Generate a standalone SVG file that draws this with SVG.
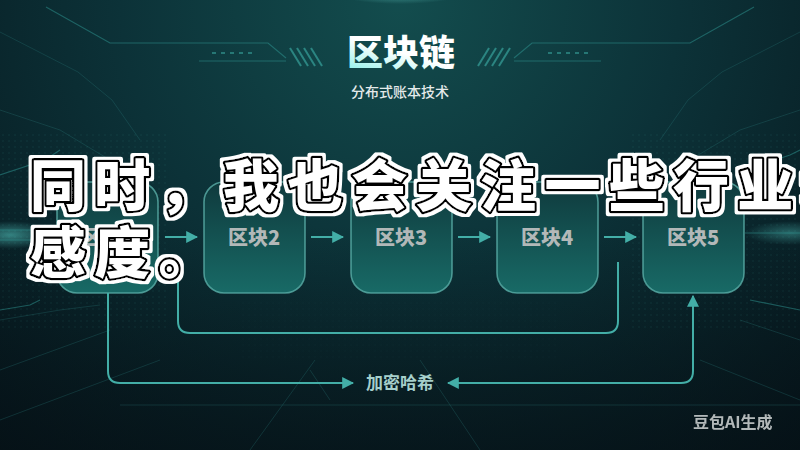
<svg xmlns="http://www.w3.org/2000/svg" width="800" height="450" viewBox="0 0 800 450">
  <style>
    .deco { fill: none; stroke: #2f9893; stroke-width: 1.2; opacity: 0.5; }
    .faint { fill: none; stroke: #2a7f7c; stroke-width: 1; opacity: 0.28; }
    .block rect { fill: url(#blockGrad); stroke: #5aaea7; stroke-width: 1.6; stroke-opacity: 0.8; }
    .block text { font-family: "Noto Sans CJK SC", "Noto Sans", sans-serif; font-weight: 900; font-size: 20px; fill: #b2b8b8; text-anchor: middle; }
    .conn { fill: none; stroke: #43aea7; stroke-width: 2; }
    .title { font-family: "Noto Sans CJK SC", sans-serif; font-weight: 900; font-size: 36px; text-anchor: middle; fill: url(#titleGrad); }
    .sub { font-family: "Noto Sans CJK SC", sans-serif; font-weight: 500; font-size: 14px; text-anchor: middle; fill: #e4eaea; }
    .lbl { font-family: "Noto Sans CJK SC", sans-serif; font-weight: 700; font-size: 17px; text-anchor: middle; fill: #a6cfcb; }
    .wm { font-family: "Noto Sans CJK SC", sans-serif; font-weight: 700; font-size: 16px; fill: #d2d6d6; opacity: 0.85; }
  </style>
  <defs>
    <radialGradient id="bgGrad" cx="400" cy="0" r="620" gradientUnits="userSpaceOnUse">
      <stop offset="0" stop-color="#134d4e"/>
      <stop offset="0.45" stop-color="#0c3238"/>
      <stop offset="1" stop-color="#06141a"/>
    </radialGradient>
    <linearGradient id="bottomShade" x1="0" y1="0" x2="0" y2="1">
      <stop offset="0.5" stop-color="#050f14" stop-opacity="0"/>
      <stop offset="1" stop-color="#050f14" stop-opacity="0.6"/>
    </linearGradient>
    <radialGradient id="topGlow" cx="0.5" cy="0" r="0.7">
      <stop offset="0" stop-color="#7ff5ec" stop-opacity="0.6"/>
      <stop offset="1" stop-color="#7ff5ec" stop-opacity="0"/>
    </radialGradient>
    <radialGradient id="sideGlow" cx="0.5" cy="0.5" r="0.5">
      <stop offset="0" stop-color="#5fe3da" stop-opacity="0.5"/>
      <stop offset="1" stop-color="#5fe3da" stop-opacity="0"/>
    </radialGradient>
    <linearGradient id="blockGrad" x1="0" y1="0" x2="0" y2="1">
      <stop offset="0" stop-color="#0f3a3d"/>
      <stop offset="1" stop-color="#186a66"/>
    </linearGradient>
    <linearGradient id="titleGrad" x1="0" y1="1" x2="0.6" y2="0">
      <stop offset="0" stop-color="#7eefe6"/>
      <stop offset="0.55" stop-color="#ffffff"/>
      <stop offset="1" stop-color="#ffffff"/>
    </linearGradient>
    <pattern id="dots" width="6" height="6" patternUnits="userSpaceOnUse">
      <circle cx="3" cy="3" r="0.7" fill="#3aa7a0"/>
    </pattern>
    <marker id="arrow" viewBox="0 0 10 10" refX="9" refY="5" markerWidth="6" markerHeight="6" orient="auto-start-reverse" markerUnits="strokeWidth">
      <path d="M0,0 L10,5 L0,10 z" fill="#43aea7"/>
    </marker>
    <filter id="capHalo" x="-5%" y="-20%" width="110%" height="140%">
      <feMorphology in="SourceAlpha" operator="dilate" radius="3" result="fat"/>
      <feFlood flood-color="#ffffff"/>
      <feComposite in2="fat" operator="in" result="whiteHalo"/>
      <feMerge>
        <feMergeNode in="whiteHalo"/>
        <feMergeNode in="SourceGraphic"/>
      </feMerge>
    </filter>
  </defs>

  <!-- background -->
  <rect width="800" height="450" fill="url(#bgGrad)"/>
  <rect width="800" height="450" fill="url(#bottomShade)"/>
  <ellipse cx="400" cy="0" rx="50" ry="10" fill="url(#topGlow)"/>
  <rect x="0" y="130" width="170" height="200" fill="url(#dots)" opacity="0.16"/>
  <rect x="630" y="130" width="170" height="200" fill="url(#dots)" opacity="0.16"/>
  <rect x="240" y="300" width="320" height="60" fill="url(#dots)" opacity="0.05"/>

  <!-- decorative lines around title -->
  <g id="decoration">
    <polyline class="deco" points="46,7 110,43 268,43 286,58"/>
    <polyline class="deco" points="199,61 286,61"/>
    <g stroke="#3aa9a2" stroke-width="2" opacity="0.55">
      <line x1="212" y1="53" x2="216" y2="53"/><line x1="221" y1="53" x2="225" y2="53"/>
      <line x1="230" y1="53" x2="234" y2="53"/><line x1="239" y1="53" x2="243" y2="53"/>
      <line x1="248" y1="53" x2="252" y2="53"/>
    </g>
    <g stroke="#3aa9a2" stroke-width="2" opacity="0.65">
      <line x1="290" y1="48" x2="301" y2="66"/><line x1="297" y1="48" x2="308" y2="66"/>
      <line x1="304" y1="48" x2="315" y2="66"/><line x1="311" y1="48" x2="322" y2="66"/>
    </g>
    <polyline class="deco" points="754,7 690,43 532,43 514,58"/>
    <polyline class="deco" points="601,61 514,61"/>
    <g stroke="#3aa9a2" stroke-width="2" opacity="0.55">
      <line x1="584" y1="53" x2="588" y2="53"/><line x1="575" y1="53" x2="579" y2="53"/>
      <line x1="566" y1="53" x2="570" y2="53"/><line x1="557" y1="53" x2="561" y2="53"/>
      <line x1="548" y1="53" x2="552" y2="53"/>
    </g>
    <g stroke="#3aa9a2" stroke-width="2" opacity="0.65">
      <line x1="510" y1="48" x2="499" y2="66"/><line x1="503" y1="48" x2="492" y2="66"/>
      <line x1="496" y1="48" x2="485" y2="66"/><line x1="489" y1="48" x2="478" y2="66"/>
    </g>
    <polyline class="faint" points="0,32 78,72 112,100 140,140"/>
    <polyline class="faint" points="800,32 722,72 688,100 660,140"/>
    <polyline class="faint" points="0,110 60,130 110,160"/>
    <polyline class="faint" points="800,110 740,130 690,160"/>
    <ellipse cx="10" cy="235" rx="45" ry="14" fill="url(#sideGlow)"/>
    <ellipse cx="790" cy="233" rx="45" ry="12" fill="url(#sideGlow)" opacity="0.7"/>
    <polyline class="deco" points="0,230 55,230"/>
    <polyline class="deco" points="0,240 45,240"/>
    <polyline class="deco" points="0,175 45,160 60,150"/>
    <polyline class="deco" points="745,233 800,233"/>
    <polyline class="deco" points="745,170 790,155 800,150"/>
    <polyline class="deco" points="0,310 30,305 40,300"/>
    <polyline class="faint" points="0,320 60,310 100,305"/>
    <polyline class="deco" points="750,300 800,310"/>
    <polyline class="faint" points="740,320 800,340"/>
    <polyline class="faint" points="0,370 110,330"/>
    <polyline class="faint" points="0,420 160,360"/>
    <polyline class="faint" points="120,405 800,405"/>
    <polyline class="faint" points="250,450 315,360"/>
    <polyline class="faint" points="480,450 420,360"/>
    <polyline class="faint" points="330,400 310,370"/>
    <polyline class="faint" points="700,360 800,400"/>
  </g>

  <!-- title -->
  <g id="title">
    <text class="title" x="401" y="66">区块链</text>
    <text class="sub" x="400" y="97">分布式账本技术</text>
  </g>

  <!-- blocks -->
  <g id="block1" class="block"><rect x="57" y="182" width="101" height="111" rx="20"/><text x="107" y="245">区块1</text></g>
  <g id="block2" class="block"><rect x="204" y="182" width="101" height="111" rx="20"/><text x="254" y="245">区块2</text></g>
  <g id="block3" class="block"><rect x="351" y="182" width="101" height="111" rx="20"/><text x="401" y="245">区块3</text></g>
  <g id="block4" class="block"><rect x="497" y="182" width="101" height="111" rx="20"/><text x="547" y="245">区块4</text></g>
  <g id="block5" class="block"><rect x="643" y="182" width="101" height="111" rx="20"/><text x="693" y="245">区块5</text></g>

  <!-- connectors -->
  <g id="connectors">
    <line class="conn" x1="165" y1="237" x2="197" y2="237" marker-end="url(#arrow)"/>
    <line class="conn" x1="311" y1="237" x2="343" y2="237" marker-end="url(#arrow)"/>
    <line class="conn" x1="458" y1="237" x2="490" y2="237" marker-end="url(#arrow)"/>
    <line class="conn" x1="604" y1="237" x2="636" y2="237" marker-end="url(#arrow)"/>
    <path class="conn" d="M178,262 V321 Q178,333 190,333 H606 Q618,333 618,321 V262"/>
    <path class="conn" d="M108,293 V371 Q108,383 120,383 H353" marker-end="url(#arrow)"/>
    <path class="conn" d="M448,383 H681 Q693,383 693,371 V296" marker-start="url(#arrow)" marker-end="url(#arrow)"/>
  </g>
  <g id="hash-label">
    <text class="lbl" x="400" y="389">加密哈希</text>
  </g>

  <!-- watermark -->
  <text class="wm" x="693" y="428">豆包AI生成</text>

  <!-- overlaid caption -->
  <g id="caption" filter="url(#capHalo)">
    <text font-family="Noto Sans CJK SC, sans-serif" font-weight="900" font-size="56" letter-spacing="8.3" fill="#ffffff" stroke="#000000" stroke-width="4.5" stroke-linejoin="round" paint-order="stroke"><tspan x="30" y="206">同时，我也会关注一些行业动</tspan><tspan x="30" y="273">感度。</tspan></text>
  </g>
</svg>
